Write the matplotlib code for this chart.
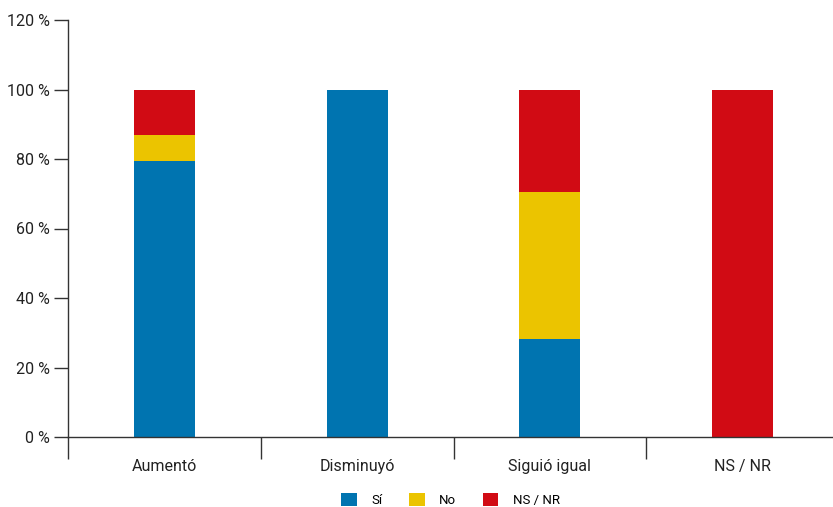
import matplotlib.pyplot as plt
from matplotlib.patches import Patch
import numpy as np

# --- datos ---
categorias = ["Aumentó", "Disminuyó", "Siguió igual", "NS / NR"]
si = [79.5, 100.0, 28.2, 0.0]
no = [7.5, 0.0, 42.4, 0.0]
ns_nr = [13.0, 0.0, 29.4, 100.0]
series = ["Sí", "No", "NS / NR"]
colores = ["#0074B0", "#EBC400", "#D10B14"]
yticks = [0, 20, 40, 60, 80, 100, 120]

plt.rcParams['font.family'] = ['Roboto', 'DejaVu Sans']

W, H = 833, 507
fig = plt.figure(figsize=(W / 100, H / 100), dpi=100)
# el eje x sigue un poco más allá del borde derecho de la figura
ax = fig.add_axes([68 / W, (H - 437) / H, (839 - 68) / W, (437 - 20) / H])

x = np.arange(len(categorias))
ancho = 0.317
abajo = np.zeros(len(categorias))
for valores, color in zip([si, no, ns_nr], colores):
    ax.bar(x, valores, ancho, bottom=abajo, color=color, linewidth=0)
    abajo += np.array(valores)

ax.set_xlim(-0.5, 3.5)
ax.set_ylim(0, 120)

# ejes
for lado in ["top", "right"]:
    ax.spines[lado].set_visible(False)
for lado in ["left", "bottom"]:
    ax.spines[lado].set_color("#333333")
    ax.spines[lado].set_linewidth(1.0)

ax.set_yticks(yticks)
ax.set_yticklabels([f"{v} %" for v in yticks], fontsize=11.5, color="#222222")
ax.tick_params(axis="y", length=10, width=1, color="#333333", pad=3)

ax.set_xticks(x)
ax.set_xticklabels(categorias, fontsize=11.5, color="#222222")
ax.tick_params(axis="x", which="major", length=0, pad=16)
ax.set_xticks(np.arange(-0.5, 4.0, 1.0), minor=True)
ax.tick_params(axis="x", which="minor", length=16, width=1, color="#333333")

handles = [Patch(facecolor=c, edgecolor="none") for c in colores]
ax.legend(handles, series, loc="center", bbox_to_anchor=(0.496, -0.151),
          ncol=3, frameon=False, fontsize=9.5, handlelength=1.2, handleheight=1.2,
          handletextpad=1.1, columnspacing=2.0)

fig.savefig("out.png", dpi=100)
